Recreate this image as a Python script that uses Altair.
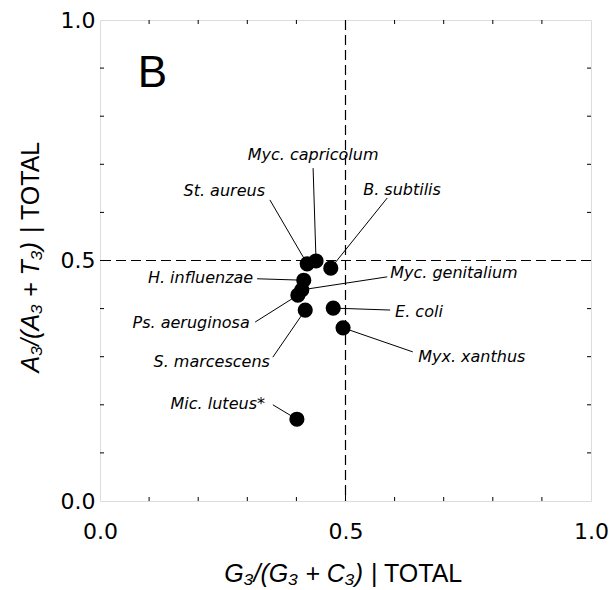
import altair as alt
import pandas as pd

# G3/(G3+C3) and A3/(A3+T3) for total genes, per organism
species = ["Myc. capricolum", "St. aureus", "B. subtilis", "H. influenzae",
           "Myc. genitalium", "Ps. aeruginosa", "E. coli", "S. marcescens",
           "Myx. xanthus", "Mic. luteus*"]
g3_ratio = [0.440, 0.422, 0.470, 0.415, 0.411, 0.403, 0.475, 0.418, 0.495, 0.401]
a3_ratio = [0.499, 0.493, 0.484, 0.459, 0.439, 0.428, 0.401, 0.397, 0.360, 0.170]

# annotation layout (data units): label anchor, alignment, leader-line start
label_x = [0.434, 0.336, 0.536, 0.312, 0.591, 0.305, 0.601, 0.346, 0.648, 0.336]
label_y = [0.719, 0.644, 0.647, 0.464, 0.474, 0.370, 0.393, 0.289, 0.299, 0.202]
label_align = ["center", "right", "left", "right", "left",
               "right", "left", "right", "left", "right"]
leader_x = [0.434, 0.346, 0.585, 0.320, 0.585, 0.316, 0.591, 0.352, 0.637, 0.352]
leader_y = [0.692, 0.626, 0.630, 0.462, 0.466, 0.372, 0.397, 0.299, 0.310, 0.200]

axis_ticks = [0.0, 0.5, 1.0]
minor_ticks = [0.1, 0.2, 0.3, 0.4, 0.6, 0.7, 0.8, 0.9]
major_ticks = [0.5]
threshold = 0.5

W, H = 491, 481
FONT = "DejaVu Sans"
SANS = "Liberation Sans"

df = pd.DataFrame({
    "name": species, "g3": g3_ratio, "a3": a3_ratio,
    "lx": label_x, "ly": label_y, "align": label_align,
    "sx": leader_x, "sy": leader_y,
})

xs = alt.Scale(domain=[0, 1], nice=False, zero=False)
ys = alt.Scale(domain=[0, 1], nice=False, zero=False)

x_axis = alt.Axis(values=axis_ticks, format=".1f", ticks=False, domain=False,
                  grid=False, labelFont=FONT, labelFontSize=22, labelColor="black",
                  labelPadding=20, labelFlush=False, title=None)
y_axis = alt.Axis(values=axis_ticks, format=".1f", ticks=False, domain=False,
                  grid=False, labelFont=FONT, labelFontSize=22, labelColor="black",
                  labelPadding=5, labelFlush=False, title=None)

base = alt.Chart(df)

points = base.mark_circle(size=230, color="black", opacity=1).encode(
    x=alt.X("g3:Q", scale=xs, axis=x_axis),
    y=alt.Y("a3:Q", scale=ys, axis=y_axis),
)

leaders = base.mark_rule(color="black", strokeWidth=1).encode(
    x="sx:Q", y="sy:Q", x2="g3:Q", y2="a3:Q"
)

def label_layer(al):
    return base.transform_filter(alt.datum.align == al).mark_text(
        align=al, baseline="middle", font=FONT, fontStyle="italic",
        fontSize=16, color="black"
    ).encode(x="lx:Q", y="ly:Q", text="name:N")

labels = [label_layer(a) for a in ["left", "right", "center"]]

one = alt.Data(values=[{"k": 0}])

vline = alt.Chart(one).mark_rule(color="black", strokeWidth=1.2,
                                 strokeDash=[10, 5]).encode(x=alt.datum(threshold))
hline = alt.Chart(one).mark_rule(color="black", strokeWidth=1.2,
                                 strokeDash=[10, 5]).encode(y=alt.datum(threshold))

# inward tick marks on all four sides
minor_df = pd.DataFrame({"t": minor_ticks})
major_df = pd.DataFrame({"t": major_ticks})

def tick_layers(tdf, ln):
    c = alt.Chart(tdf).mark_rule(color="black", strokeWidth=1)
    return [
        c.encode(x="t:Q", y=alt.value(H), y2=alt.value(H - ln)),
        c.encode(x="t:Q", y=alt.value(0), y2=alt.value(ln)),
        c.encode(y="t:Q", x=alt.value(0), x2=alt.value(ln)),
        c.encode(y="t:Q", x=alt.value(W), x2=alt.value(W - ln)),
    ]

ticks = tick_layers(minor_df, 4) + tick_layers(major_df, 10)

panel_tag = alt.Chart(alt.Data(values=[{"t": "B"}])).mark_text(
    align="left", baseline="alphabetic", font=SANS, fontSize=44, color="black"
).encode(x=alt.datum(0.077), y=alt.datum(0.861), text="t:N")

def title_piece(text, x, y, align, italic, angle=0):
    kw = dict(align=align, baseline="alphabetic", font=SANS, fontSize=25,
              color="black", text=text)
    if italic:
        kw["fontStyle"] = "italic"
    if angle:
        kw["angle"] = angle
        kw["baseline"] = "middle"
    return alt.Chart(one).mark_text(**kw).encode(x=alt.value(x), y=alt.value(y))

titles = [
    title_piece("G₃/(G₃ + C₃)", 263, 562, "right", True),
    title_piece("| TOTAL", 271, 562, "left", False),
    title_piece("A₃/(A₃ + T₃)", -69, 222, "right", True, 270),
    title_piece("| TOTAL", -69, 213, "left", False, 270),
]

chart = alt.layer(
    vline, hline, *ticks, leaders, points, *labels, panel_tag, *titles
).properties(
    width=W, height=H,
    autosize=alt.AutoSizeParams(type="none"),
    padding={"left": 100, "top": 20, "right": 21, "bottom": 89},
).configure_view(stroke="black", strokeWidth=1.5).configure(background="white")

chart.save("out.html", embed_options={"renderer": "svg", "actions": False})
